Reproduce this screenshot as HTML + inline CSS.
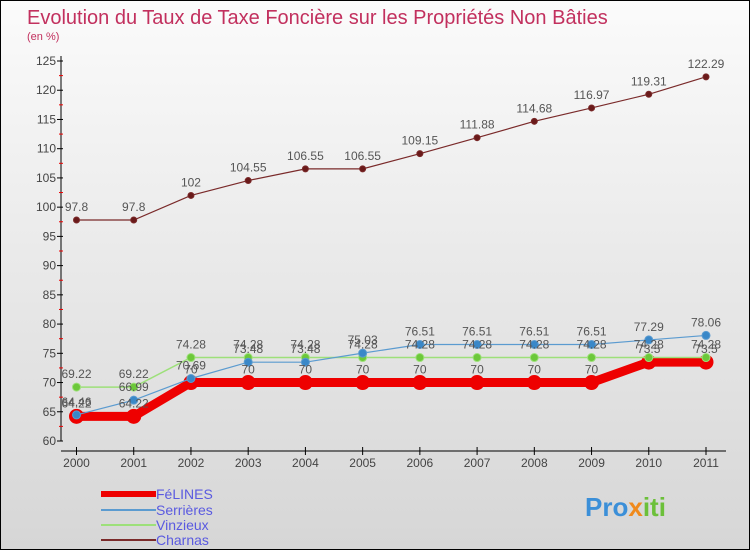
<!DOCTYPE html>
<html><head><meta charset="utf-8"><style>
body{margin:0;width:750px;height:550px;overflow:hidden}
#c{position:relative;width:748px;height:548px;border:1px solid #000;background:linear-gradient(#fbfbfb,#d6d6d6);font-family:"Liberation Sans",sans-serif}
</style></head><body>
<div id="c">
<svg id="s" width="748" height="548" style="position:absolute;left:0;top:0">
<text x="26" y="23" font-size="20" fill="#c2305e">Evolution du Taux de Taxe Foncière sur les Propriétés Non Bâties</text>
<text x="26" y="39" font-size="11" fill="#c2305e">(en %)</text>
<g id="ax"></g><g id="series"></g><g id="labels"></g>
<g>
<line x1="100" y1="493" x2="155" y2="493" stroke="#e00" stroke-width="6"/><text x="155" y="498" font-size="14" fill="#5a5ae0">FéLINES</text>
<line x1="100" y1="509" x2="155" y2="509" stroke="#5b9bd0" stroke-width="2"/><text x="155" y="514" font-size="14" fill="#5a5ae0">Serrières</text>
<line x1="100" y1="524" x2="155" y2="524" stroke="#9de07a" stroke-width="2"/><text x="155" y="529" font-size="14" fill="#5a5ae0">Vinzieux</text>
<line x1="100" y1="539" x2="155" y2="539" stroke="#7a2a2a" stroke-width="2"/><text x="155" y="544" font-size="14" fill="#5a5ae0">Charnas</text>
</g>
<text x="584" y="515" font-size="26" font-weight="bold"><tspan fill="#3b8fd8">Pro</tspan><tspan fill="#f08a1c">x</tspan><tspan fill="#6cc03a">iti</tspan></text>
</svg>
</div>
<script>
const years=[2000,2001,2002,2003,2004,2005,2006,2007,2008,2009,2010,2011];
const felines=[64.22,64.22,70,70,70,70,70,70,70,70,73.5,73.5];
const serrieres=[64.46,66.99,70.69,73.48,73.48,75.03,76.51,76.51,76.51,76.51,77.29,78.06];
const vinzieux=[69.22,69.22,74.28,74.28,74.28,74.28,74.28,74.28,74.28,74.28,74.28,74.28];
const charnas=[97.8,97.8,102,104.55,106.55,106.55,109.15,111.88,114.68,116.97,119.31,122.29];
const yTicks=[60,65,70,75,80,85,90,95,100,105,110,115,120,125];
const NS="http://www.w3.org/2000/svg";
const X=i=>75.5+i*(705-75.5)/(years.length-1);
const Y=v=>440-(v-60)*(380/65);
function mk(t,a,p){const e=document.createElementNS(NS,t);for(const k in a)e.setAttribute(k,a[k]);p.appendChild(e);return e;}
const ax=document.getElementById('ax');
let l=mk('line',{x1:60,y1:55,x2:60,y2:440,stroke:'#000'},ax);


l=mk('line',{x1:60,y1:450,x2:725,y2:450,stroke:'#000'},ax);


yTicks.forEach((v,i)=>{const y=Y(v);mk('line',{x1:56,y1:y,x2:62,y2:y,stroke:'#000'},ax);
if(i<yTicks.length-1)mk('line',{x1:58,y1:Y(v+2.5),x2:62,y2:Y(v+2.5),stroke:'#e00'},ax);
const t=mk('text',{x:55,y:y+4,'text-anchor':'end','font-size':12,fill:'#444'},ax);t.textContent=v;

});
years.forEach((yr,i)=>{const x=X(i);mk('line',{x1:x,y1:446,x2:x,y2:454,stroke:'#000'},ax);
const t=mk('text',{x:x,y:466,'text-anchor':'middle','font-size':12,fill:'#444'},ax);t.textContent=yr;

});
const sg=document.getElementById('series'),lg=document.getElementById('labels');
function draw(d,name,col,w,r,dot){const g=mk('g',{},sg);


const p=mk('polyline',{points:d.map((v,i)=>X(i)+','+Y(v)).join(' '),fill:'none',stroke:col,'stroke-width':w},g);
d.forEach((v,i)=>{const c=mk('circle',{cx:X(i),cy:Y(v),r:r,fill:dot,stroke:col,'stroke-width':1},g);


const t=mk('text',{x:X(i),y:Y(v)-9,'text-anchor':'middle','font-size':12,fill:'#555'},lg);t.textContent=v;

});}
draw(charnas,'charnas','#7a2a2a',1.2,3,'#6a1a1a');
draw(felines,'felines','#e00',9,7,'#e00');
draw(vinzieux,'vinzieux','#9de07a',1.5,4,'#6cc83a');
draw(serrieres,'serrieres','#5b9bd0',1.2,4,'#3a88c8');
</script>
</body></html>
